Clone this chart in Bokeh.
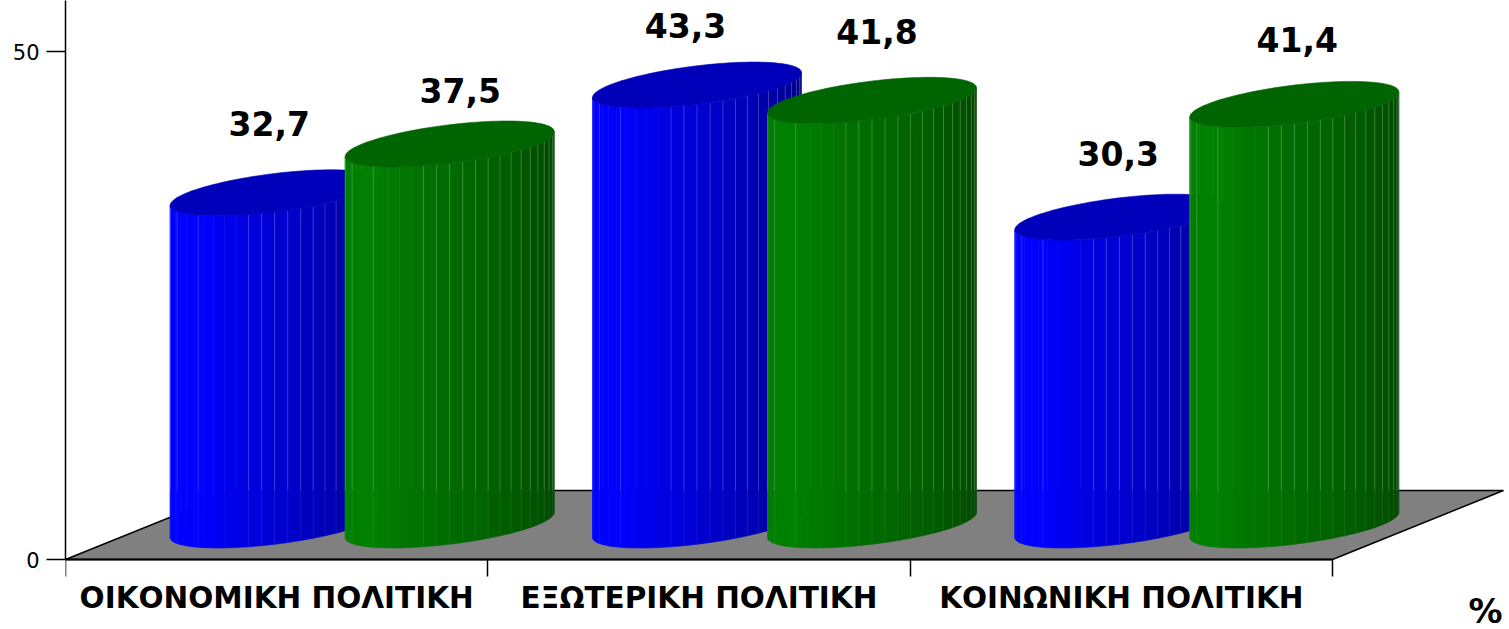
import math
from bokeh.plotting import figure
from bokeh.models import FixedTicker
from bokeh.embed import file_html
from bokeh.resources import INLINE
from bokeh.core.properties import value

# ---- data ----
categories = ["ΟΙΚΟΝΟΜΙΚΗ ΠΟΛΙΤΙΚΗ", "ΕΞΩΤΕΡΙΚΗ ΠΟΛΙΤΙΚΗ", "ΚΟΙΝΩΝΙΚΗ ΠΟΛΙΤΙΚΗ"]
blue_values = [32.7, 43.3, 30.3]
green_values = [37.5, 41.8, 41.4]
y_ticks = [0, 50]
blue_texts = ["32,7", "43,3", "30,3"]
green_texts = ["37,5", "41,8", "41,4"]

# ---- layout (pixel scale of the plot) ----
PX_X = 422.33      # px per category
PX_Y = 10.16       # px per percent
DEPTH_X = 171 / PX_X
DEPTH_Y = 69 / PX_Y
BAR_OFFSET = 87.5 / PX_X
R_X = 104.5 / PX_X      # half width of silhouette
R_Y = 23 / PX_Y         # half height of the top ellipse
SKEW = 0.545            # sin of silhouette angle
# hand placed value labels (px, relative to centre of top ellipse)
blue_label_dx, blue_label_dy = [-5.5, -11.5, -1], [69.5, 60, 63.5]
green_label_dx, green_label_dy = [10.5, 5, 3], [53.5, 69, 65]

T0 = math.asin(SKEW)
facet_angles = [0.0] + [3.6 + 7.2 * k for k in range(25)] + [180.0]
line_angles = [3.6 + 7.2 * k for k in range(15)] + [137.0, 159.0, 176.0]


def rim(cx, cy, theta_deg):
    th = math.radians(theta_deg)
    return cx + R_X * math.cos(th), cy + R_Y * math.sin(T0 - th)


def shade(theta_deg, bright, dark):
    f = min(max((137 - theta_deg) / 137, 0), 1)
    return bright + f * (dark - bright)


def cylinder(p, cx, val, bright, dark, rgb, top_color):
    base = DEPTH_Y / 2
    top = base + val
    xs, ys, cols = [], [], []
    for a, b in zip(facet_angles[:-1], facet_angles[1:]):
        x0, yb0 = rim(cx, base, a)
        x1, yb1 = rim(cx, base, b)
        _, yt0 = rim(cx, top, a)
        _, yt1 = rim(cx, top, b)
        xs.append([x0, x1, x1, x0])
        ys.append([yb0, yb1, yt1, yt0])
        c = int(round(shade((a + b) / 2, bright, dark)))
        cols.append("#%02x%02x%02x" % tuple(c * k for k in rgb))
    p.patches(xs, ys, fill_color=cols, line_color=cols, line_width=0.6)
    # facet edges: faint in front of the floor, lighter above its back edge
    lx, ly0, ly1, ly2 = [], [], [], []
    for a in line_angles:
        x, yb = rim(cx, base, a)
        _, yt = rim(cx, top, a)
        lx.append(x); ly0.append(yb); ly1.append(DEPTH_Y); ly2.append(yt)
    p.segment(lx, ly0, lx, ly1, line_color="#ffffff", line_alpha=0.07, line_width=1)
    p.segment(lx, ly1, lx, ly2, line_color="#ffffff", line_alpha=0.20, line_width=1)
    tx, ty = [], []
    for i in range(120):
        x, y = rim(cx, top, i * 3)
        tx.append(x); ty.append(y)
    p.patch(tx, ty, fill_color=top_color, line_color=top_color, line_width=0.6)


FRAME_W = 1444
FRAME_H = 629
x_end = FRAME_W / PX_X
y_end = 559 / PX_Y
y_start = -70 / PX_Y

p = figure(output_backend="svg", toolbar_location=None,
           frame_width=FRAME_W, frame_height=FRAME_H,
           x_range=(0, x_end), y_range=(y_start, y_end),
           min_border_left=65, min_border_right=0, min_border_top=0, min_border_bottom=0,
           outline_line_color=None, background_fill_color="white")
p.grid.visible = False

# axes
yax = p.yaxis[0]
yax.ticker = FixedTicker(ticks=y_ticks)
yax.bounds = (0, y_end)
yax.axis_line_color = "black"
yax.axis_line_width = 1.5
yax.major_tick_in = 0
yax.major_tick_out = 19
yax.major_tick_line_color = "black"
yax.major_tick_line_width = 1.5
yax.minor_tick_line_color = None
yax.major_label_standoff = 7
yax.major_label_text_font = "DejaVu Sans"
yax.major_label_text_font_size = "21px"
yax.major_label_text_color = "black"

n = len(categories)
xax = p.xaxis[0]
xax.fixed_location = 0
centers = [i + 0.5 for i in range(n)]
xax.ticker = FixedTicker(ticks=centers, minor_ticks=list(range(n + 1)))
xax.major_label_overrides = {c: t for c, t in zip(centers, categories)}
xax.bounds = (0, n)
xax.axis_line_color = "black"
xax.axis_line_width = 2
xax.major_tick_line_color = None
xax.major_tick_in = 0
xax.major_tick_out = 0
xax.minor_tick_in = 0
xax.minor_tick_out = 17
xax.minor_tick_line_color = "black"
xax.minor_tick_line_width = 1.5
xax.major_label_standoff = 4
xax.major_label_text_font = "DejaVu Sans"
xax.major_label_text_font_style = "bold"
xax.major_label_text_font_size = "29.5px"
xax.major_label_text_color = "black"

# floor
p.patch([0, n, n + DEPTH_X, DEPTH_X], [0, 0, DEPTH_Y, DEPTH_Y],
        fill_color="#808080", line_color="black", line_width=1.5)

# cylinders
lab_x, lab_y, lab_t, lab_dx, lab_dy = [], [], [], [], []
for i in range(n):
    c = i + 0.5 + DEPTH_X / 2
    cylinder(p, c - BAR_OFFSET, blue_values[i], 255, 125, (0, 0, 1), "#0000bb")
    cylinder(p, c + BAR_OFFSET, green_values[i], 128, 68, (0, 1, 0), "#006400")
    lab_x += [c - BAR_OFFSET, c + BAR_OFFSET]
    lab_y += [DEPTH_Y / 2 + blue_values[i], DEPTH_Y / 2 + green_values[i]]
    lab_t += [blue_texts[i], green_texts[i]]
    lab_dx += [blue_label_dx[i], green_label_dx[i]]
    lab_dy += [-blue_label_dy[i], -green_label_dy[i]]

p.text(x=lab_x, y=lab_y, text=lab_t, x_offset=lab_dx, y_offset=lab_dy,
       text_font=value("DejaVu Sans"), text_font_style="bold", text_font_size="33px",
       text_color="black", text_align="center", text_baseline="middle")

# unit mark below the axis, near the right edge
p.text(x=[(1485 - 65) / PX_X], y=[-(610 - 559) / PX_Y], text=["%"],
       text_font=value("DejaVu Sans"), text_font_style="bold", text_font_size="34px",
       text_color="black", text_align="center", text_baseline="middle")

open("out.html", "w").write(file_html(p, INLINE))
